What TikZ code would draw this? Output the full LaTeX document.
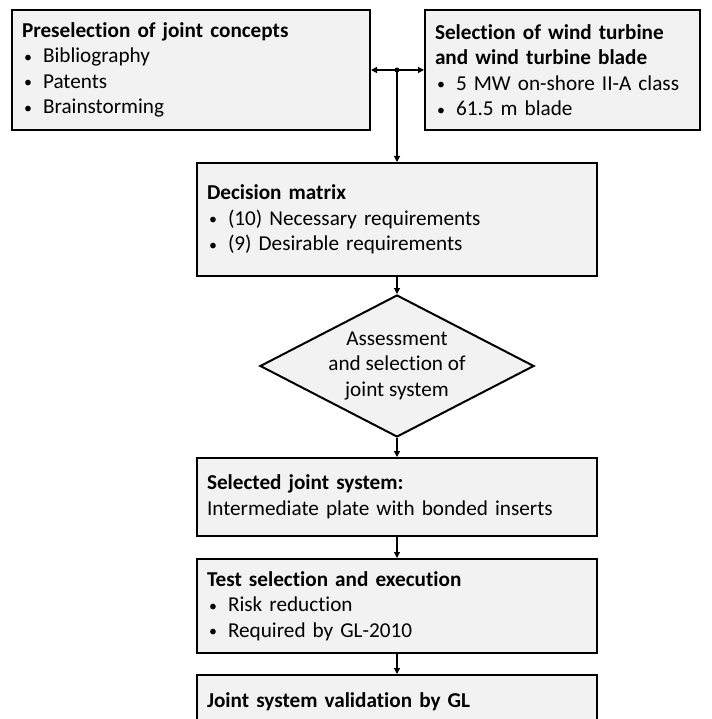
\documentclass[tikz,border=0pt]{standalone}
\usepackage{fontspec}
\setmainfont{Carlito}[RawFeature=-liga]
\usetikzlibrary{arrows.meta,shapes.geometric}
\definecolor{boxfill}{RGB}{242,242,242}
\newcommand{\bitem}{\hspace*{2pt}\makebox[19pt][l]{\raisebox{0.5pt}{\scalebox{0.75}{\textbullet}}}}

\begin{document}
\begin{tikzpicture}[
    x=1pt, y=-1pt,
    >={Triangle[length=6pt,width=6pt]},
    box/.style={rectangle, draw, line width=2pt, fill=boxfill, inner xsep=10pt, inner ysep=0pt,
        align=left, font=\fontsize{21.2}{25.5}\selectfont, minimum height=#1},
    decision box/.style={diamond, draw, line width=2pt, fill=boxfill, inner sep=-6pt, shape aspect=1.93,
        minimum width=274pt, minimum height=142pt, align=center, font=\fontsize{21.2}{25.5}\selectfont},
    connection/.style={line width=1.2pt, ->}
]

% Frame
\clip (0,0) rectangle (711,719);

% Top row
\node[box=120, text width=338pt] (presel) at (191,70)
    {\textbf{Preselection of joint concepts}\\ \bitem Bibliography\\ \bitem Patents\\ \bitem Brainstorming};
\node[box=120, text width=255pt] (windsel) at (562.5,70)
    {\textbf{Selection of wind turbine}\\ \textbf{and wind turbine blade}\\ \bitem 5 MW on-shore II-A class\\ \bitem 61.5 m blade};

% Main column
\node[box=113, text width=380pt] (matrix) at (397,219.5)
    {\textbf{Decision matrix}\\ \bitem (10) Necessary requirements\\ \bitem (9) Desirable requirements};
\node[decision box] (assess) at (397,366) {Assessment\\ and selection of\\ joint system};
\node[box=78, text width=380pt] (selected) at (397,497)
    {\textbf{Selected joint system:}\\ Intermediate plate with bonded inserts};
\node[box=94, text width=380pt] (tests) at (397,606)
    {\textbf{Test selection and execution}\\ \bitem Risk reduction\\ \bitem Required by GL-2010};
\node[box=54, text width=380pt] (valid) at (397,702) {\textbf{Joint system validation by GL}};

% Connections
\coordinate (junc) at (397,70);
\draw[line width=1.2pt, <->] (presel) -- (windsel);
\fill (junc) circle (2.5pt);
\draw[connection] (junc) -- (matrix);
\draw[connection] (matrix) -- (assess);
\draw[connection] (assess) -- (selected);
\draw[connection] (selected) -- (tests);
\draw[connection] (tests) -- (valid);

\end{tikzpicture}
\end{document}
